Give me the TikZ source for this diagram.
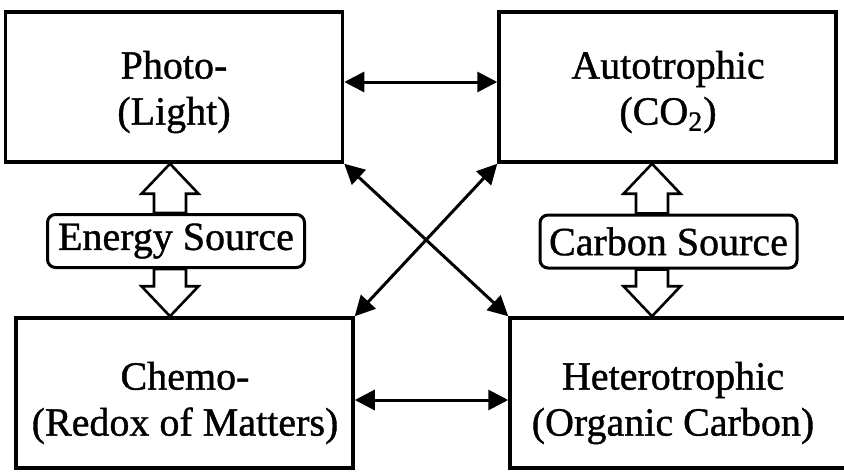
\documentclass[tikz,border=0pt]{standalone}
\usepackage{fontspec}
\setmainfont{Liberation Serif}[FakeBold=1]
\usetikzlibrary{arrows.meta,calc}

% hollow block arrow: #1 = x position, #2 = tail anchor, #3 = tip anchor
\newcommand\fatarrow[3]{%
  \draw[fat] let \p3=(#1,0), \p1=(#2), \p2=(#3), \n1={sign(\y2-\y1)} in
    (\x3,\y2) -- (\x3-14.25pt,{\y2-\n1*15pt}) -- (\x3-8pt,{\y2-\n1*15pt})
    -- (\x3-8pt,\y1) -- (\x3+8pt,\y1) -- (\x3+8pt,{\y2-\n1*15pt})
    -- (\x3+14.25pt,{\y2-\n1*15pt}) -- cycle;}

\begin{document}
\begin{tikzpicture}[x=0.5pt,y=-0.5pt,
    box/.style={draw,line width=1.75pt,minimum width=168.5pt,minimum height=75pt,inner sep=0pt},
    src/.style={draw,fill=white,line width=1.5pt,rounded corners=4pt,
      minimum width=128.5pt,minimum height=26.5pt,inner sep=0pt,font=\fontsize{20}{23}\selectfont},
    txt/.style={align=center,font=\fontsize{20}{23}\selectfont},
    fat/.style={draw,fill=white,line width=1.3pt},
    link/.style={<->,line width=1.5pt},
    >={Triangle[length=10pt,width=10pt]}]
    \useasboundingbox (0,0) rectangle (844,471);

    % energy side
    \node[box] (photo) at (174,87) {};
    \node[txt] (photo-t) at (174,92) {Photo-\\(Light)};
    \node[box] (chemo) at (184.5,393) {};
    \node[txt] (chemo-t) at (185,403) {Chemo-\\(Redox of Matters)};

    % carbon side
    \node[box] (auto) at (667.5,87) {};
    \node[txt] (auto-t) at (668,92) {Autotrophic\\(CO\textsubscript{2})};
    \node[box] (hetero) at (678.5,393) {};
    \node[txt] (hetero-t) at (673,403) {Heterotrophic\\(Organic Carbon)};

    % source labels with block arrows
    \node[src] (esrc) at (176,241) {Energy Source};
    \node[src] (csrc) at (668.5,241.5) {Carbon Source};
    \fatarrow{170}{esrc.north}{photo.south}
    \fatarrow{170}{esrc.south}{chemo.north}
    \fatarrow{652}{csrc.north}{auto.south}
    \fatarrow{652}{csrc.south}{hetero.north}

    % combinations
    \draw[link] ([yshift=2.5pt]photo.east) -- ([yshift=2.5pt]auto.west);
    \draw[link] ([yshift=-3.5pt]chemo.east) -- ([yshift=-3.5pt]hetero.west);
    \draw[link] (photo.south east) -- (hetero.north west);
    \draw[link] (auto.south west) -- (chemo.north east);
\end{tikzpicture}
\end{document}
